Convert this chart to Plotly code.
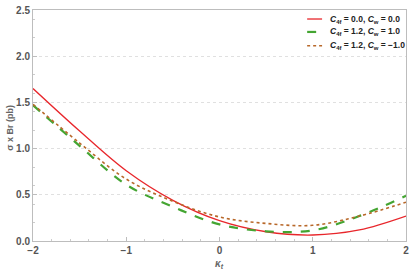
import plotly.graph_objects as go

kappa_t = [-2.0, -1.5, -1.0, -0.5, 0.0, 0.5, 1.0, 1.5, 2.0]
sigma_red = [1.65, 1.19, 0.76, 0.44, 0.22, 0.10, 0.065, 0.12, 0.27]
sigma_green = [1.47, 1.03, 0.61, 0.37, 0.18, 0.105, 0.115, 0.27, 0.49]
sigma_brown = [1.48, 1.06, 0.67, 0.43, 0.26, 0.19, 0.17, 0.27, 0.42]

names = [
    "<b><i>C</i><sub>4f</sub> = 0.0, <i>C</i><sub>w</sub> = 0.0</b>",
    "<b><i>C</i><sub>4f</sub> = 1.2, <i>C</i><sub>w</sub> = 1.0</b>",
    "<b><i>C</i><sub>4f</sub> = 1.2, <i>C</i><sub>w</sub> = \u22121.0</b>",
]
styles = [
    dict(color="#e8262b", width=1.3, dash="solid"),
    dict(color="#44a532", width=2.2, dash="dash"),
    dict(color="#b8682a", width=1.6, dash="dot"),
]

fig = go.Figure()
for name, ys, st in zip(names, [sigma_red, sigma_green, sigma_brown], styles):
    fig.add_trace(go.Scatter(x=kappa_t, y=ys, mode="lines", name=name,
                             line=dict(shape="spline", **st), showlegend=False))

tick_font = dict(family="Liberation Sans, Arial", size=10, color="#555555", weight="bold")
axis_common = dict(
    showline=True, linecolor="#bdbdbd", linewidth=1, mirror=True,
    ticks="inside", ticklen=4, tickcolor="#bdbdbd",
    tickfont=tick_font, automargin=False, ticklabeloverflow="allow",
    zeroline=False,
    minor=dict(ticks="inside", ticklen=2, tickcolor="#cccccc", showgrid=False),
)

fig.update_xaxes(range=[-2, 2], tickvals=[-2, -1, 0, 1, 2],
                 ticktext=["\u22122", "\u22121", "0", "1", "2"],
                 showgrid=False, **axis_common)
fig.update_yaxes(range=[0, 2.5], tickvals=[0, 0.5, 1.0, 1.5, 2.0, 2.5],
                 ticktext=["0.0", "0.5", "1.0", "1.5", "2.0", "2.5"],
                 showgrid=True, gridcolor="#e0e0e0", griddash="dot", gridwidth=1,
                 **axis_common)

fig.add_annotation(text="<b><i>\u03ba<sub>t</sub></i></b>", xref="paper", yref="paper",
                   x=0.5, y=-0.1, xanchor="center", yanchor="middle", showarrow=False,
                   font=dict(family="Liberation Sans, Arial", size=10, color="#666666"))
fig.add_annotation(text="<b>\u03c3 x Br (pb)</b>", xref="paper", yref="paper",
                   x=-0.062, y=0.49, xanchor="center", yanchor="middle", showarrow=False,
                   textangle=-90,
                   font=dict(family="Liberation Sans, Arial", size=9, color="#666666"))

# Legend drawn as key lines + text (compact row spacing as in the reference)
legend_rows_y = [0.961, 0.905, 0.845]
for name, st, yy in zip(names, styles, legend_rows_y):
    fig.add_shape(type="line", xref="paper", yref="paper",
                  x0=0.735, x1=0.775, y0=yy, y1=yy, line=st)
    fig.add_annotation(text=name, xref="paper", yref="paper", x=0.792, y=yy,
                       xanchor="left", yanchor="middle", showarrow=False,
                       font=dict(family="Liberation Sans, Arial", size=8.5, color="#222222"))

fig.update_layout(
    width=413, height=273,
    margin=dict(l=33, r=7, t=10, b=32),
    paper_bgcolor="white", plot_bgcolor="white",
    showlegend=False,
)

fig.write_html("out.html", config={"displayModeBar": False},
               post_script="document.body.style.margin='0';")
